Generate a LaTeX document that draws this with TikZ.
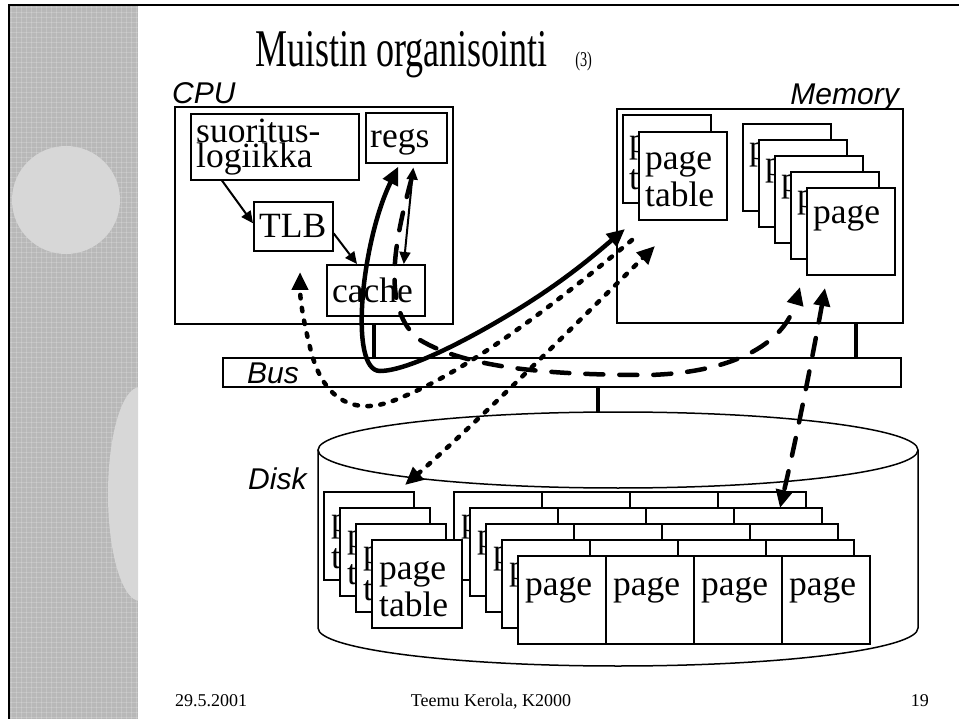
\documentclass[tikz,border=0pt]{standalone}
\usepackage{fontspec}
\setmainfont{Liberation Serif}
\newfontfamily\labelfont{Liberation Sans}
\newfontfamily\titlefont[FakeStretch=0.68]{Liberation Serif}
\usepackage{tikz}
\usetikzlibrary{positioning}
\usetikzlibrary{arrows.meta}

\definecolor{stripgray}{RGB}{184,184,184}
\definecolor{blobgray}{RGB}{215,215,215}

\begin{document}
\begin{tikzpicture}[x=1pt, y=-1pt,
  box/.style={draw, line width=1.6pt, fill=white, inner sep=0pt, anchor=north west},
  sheet/.style={box, minimum width=88pt, minimum height=88pt},
  boxtext/.style={font=\fontsize{35.5}{40}\selectfont, inner sep=0pt, anchor=base west},
  unitlabel/.style={font=\labelfont\itshape\fontsize{30}{34}\selectfont, inner sep=0pt, anchor=base west},
  footer/.style={font=\fontsize{18}{20}\selectfont, inner sep=0pt, anchor=base west},
  stub/.style={line width=4pt},
  ctrl/.style={line width=2pt, >={Triangle[length=12pt,width=11pt]}, ->},
  datapath/.style={line width=4.5pt, >={Triangle[length=18pt,width=16pt]}},
  longdash/.style={datapath, line cap=round, dash pattern=on 18pt off 16pt},
  shortdash/.style={datapath, line cap=round, dash pattern=on 3.5pt off 9.5pt}]
\useasboundingbox (0,0) rectangle (959,719);

% textured side strip
\fill[stripgray] (9,6) rectangle (138,719);
\foreach \k in {0,...,142}
  \draw[white, opacity=0.18, line width=0.9pt] (9,7+5*\k) -- (138,7+5*\k);
\foreach \k in {0,...,25}
  \draw[white, opacity=0.18, line width=0.9pt] (11+5*\k,6) -- (11+5*\k,719);
\fill[blobgray] (66,200) circle[radius=54pt];
\begin{scope}
  \clip (9,6) rectangle (138,719);
  \fill[blobgray] (140,494) ellipse[x radius=32pt, y radius=107pt];
\end{scope}
\draw[line width=1.5pt] (9,719) -- (9,5) -- (959,5);

% title
\node[font=\titlefont\fontsize{53}{60}\selectfont, inner sep=0pt, anchor=base west] (title) at (255,67) {Muistin organisointi};
\node[font=\titlefont\fontsize{21}{24}\selectfont, inner sep=0pt, base right=27pt of title] (titlenum) {(3)};

% CPU
\node[unitlabel] (cpulabel) at (172,104) {CPU};
\node[box, minimum width=278pt, minimum height=217pt] (cpu) at (174,106) {};
\node[box, minimum width=168pt, minimum height=66pt] (logic) at (190,113) {};
\node[boxtext] (logictop) at (196,143) {suoritus-};
\node[boxtext] (logicbot) at (196,168) {logiikka};
\node[box, minimum width=81pt, minimum height=50pt] (regs) at (365,112) {};
\node[boxtext] (regstext) at (370,148) {regs};
\node[box, minimum width=79pt, minimum height=49pt] (tlb) at (253,201) {};
\node[boxtext] (tlbtext) at (259,238) {TLB};
\node[box, minimum width=98pt, minimum height=51pt] (cache) at (326,264) {};
\node[boxtext] (cachetext) at (332,303) {cache};

% Memory
\node[unitlabel, anchor=base east] (memlabel) at (899,105) {Memory};
\node[box, minimum width=286pt, minimum height=214pt] (mem) at (616,108) {};
\foreach \i in {0,1} {
  \node[sheet] (mpt\i) at (622+16*\i,114+17*\i) {};
  \node[boxtext] (mpta\i) at (629+16*\i,153+17*\i) {page};
  \node[boxtext] (mptb\i) at (629+16*\i,190+17*\i) {table};
}
\foreach \i in {0,...,4} {
  \node[sheet, minimum height=87pt] (mpg\i) at (742+16*\i,123+16*\i) {};
  \node[boxtext] (mpgt\i) at (749+16*\i,160+16*\i) {page};
}

% Bus
\node[box, minimum width=678pt, minimum height=29pt] (bus) at (222,357) {};
\node[unitlabel] (buslabel) at (247,384) {Bus};

% Disk
\draw[line width=1.5pt, fill=white] (318,450) -- (318,628)
  arc[start angle=180, end angle=360, x radius=300pt, y radius=38pt] -- (918,450);
\draw[line width=1.5pt, fill=white] (618,450) ellipse[x radius=300pt, y radius=38pt];
\coordinate (disktop) at (598,412);
\node[unitlabel] (disklabel) at (248,489) {Disk};
% only the first column of the back rows shows its label
\foreach \r in {0,...,3} {
  \node[sheet] (dpg\r0) at (453+16*\r,491+16*\r) {};
  \node[boxtext] (dpgt\r) at (461+16*\r,531+16*\r) {page};
  \foreach \c in {1,2,3}
    \node[sheet] (dpg\r\c) at (453+16*\r+88*\c,491+16*\r) {};
}
\foreach \c in {0,...,3} {
  \node[sheet] (dpg4\c) at (517+88*\c,555) {};
  \node[boxtext] (dpgf\c) at (525+88*\c,595) {page};
}
\foreach \i in {0,...,3} {
  \node[sheet, minimum width=90pt] (dpt\i) at (323+16*\i,491+16*\i) {};
  \node[boxtext] (dpta\i) at (331+16*\i,531+16*\i) {page};
  \node[boxtext] (dptb\i) at (331+16*\i,568+16*\i) {table};
}

% bus connections
\draw[stub] ([xshift=60pt]cpu.south) -- ([xshift=60pt]cpu.south |- bus.north);
\draw[stub] ([xshift=96pt]mem.south) -- ([xshift=96pt]mem.south |- bus.north);
\draw[stub] (bus.south -| disktop) -- (disktop);

% control flow inside the CPU
\draw[ctrl] ([xshift=32pt]logic.south west) -- ([yshift=3pt]tlb.west);
\draw[ctrl] ([yshift=-7pt]tlb.east) -- ([xshift=31pt]cache.north west);
\draw[ctrl, <->] ([xshift=7pt,yshift=-4pt]regs.south) -- ([xshift=28pt]cache.north);

% transfers over the bus
\coordinate (mempt) at (625,229);
\coordinate (ptread) at (632,240);
\coordinate (ptload) at (655,246);
\coordinate (mempg) at (800,287);
\coordinate (mempgb) at (825,288);
\coordinate (tlbfill) at (300,272);
\coordinate (diskpt) at (405,485);
\coordinate (diskpg) at (780,508);

\draw[datapath, <->] ([xshift=-8pt,yshift=-3pt]regs.south)
  .. controls (362,240) and (348,371) .. (380,371)
  .. controls (405,371) and (460,345) .. (520,308)
  .. controls (570,277) and (600,250) .. (mempt);
\draw[longdash, ->] ([xshift=5pt,yshift=-16pt]regs.south)
  .. controls (395,240) and (380,310) .. (420,340)
  .. controls (470,370) and (560,375) .. (650,375)
  .. controls (740,372) and (785,340) .. (mempg);
\draw[shortdash, ->] (ptread)
  .. controls (560,300) and (470,370) .. (400,398)
  .. controls (355,418) and (325,400) .. (312,355)
  .. controls (304,325) and (300,300) .. (tlbfill);
\draw[shortdash, <->] (diskpt) .. controls (480,420) and (590,310) .. (ptload);
\draw[longdash, <->] (mempgb) .. controls (812,360) and (796,440) .. (diskpg);

% footer
\node[footer] (date) at (175,706) {29.5.2001};
\node[footer, anchor=base] (author) at (491,706) {Teemu Kerola, K2000};
\node[footer, anchor=base east] (slideno) at (929,706) {19};
\end{tikzpicture}
\end{document}
